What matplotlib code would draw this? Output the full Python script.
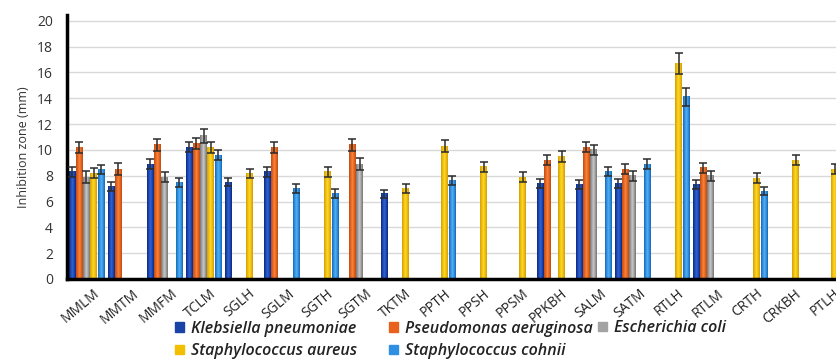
import numpy as np
import matplotlib
matplotlib.use('Agg')
import matplotlib.pyplot as plt
import matplotlib.transforms as mtransforms
from matplotlib.colors import LinearSegmentedColormap
from matplotlib.patches import Patch

nan = np.nan

extracts = ['MMLM', 'MMTM', 'MMFM', 'TCLM', 'SGLH', 'SGLM', 'SGTH', 'SGTM', 'TKTM', 'PPTH',
            'PPSH', 'PPSM', 'PPKBH', 'SALM', 'SATM', 'RTLH', 'RTLM', 'CRTH', 'CRKBH', 'PTLH']

species = ['Klebsiella pneumoniae', 'Pseudomonas aeruginosa', 'Escherichia coli',
           'Staphylococcus aureus', 'Staphylococcus cohnii']

klebsiella = [8.3, 7.2, 8.9, 10.2, 7.5, 8.3, nan, nan, 6.6, nan, nan, nan, 7.4, 7.3, 7.4, nan, 7.3, nan, nan, nan]
pseudomonas = [10.2, 8.5, 10.4, 10.5, nan, 10.2, nan, 10.4, nan, nan, nan, nan, 9.2, 10.2, 8.5, nan, 8.6, nan, nan, nan]
ecoli = [7.9, nan, 7.9, 11.1, nan, nan, nan, 8.9, nan, nan, nan, nan, nan, 10.0, 8.0, nan, 8.0, nan, nan, nan]
aureus = [8.2, nan, nan, 10.2, 8.2, nan, 8.3, nan, 7.0, 10.3, 8.7, 7.9, 9.5, nan, nan, 16.7, nan, 7.8, 9.2, 8.5]
cohnii = [8.5, nan, 7.5, 9.6, nan, 7.0, 6.6, nan, nan, 7.6, nan, nan, nan, 8.3, 8.9, 14.1, nan, 6.8, nan, nan]

err_k = [0.4, 0.35, 0.4, 0.4, 0.3, 0.4, nan, nan, 0.3, nan, nan, nan, 0.35, 0.35, 0.35, nan, 0.35, nan, nan, nan]
err_p = [0.45, 0.45, 0.45, 0.45, nan, 0.45, nan, 0.45, nan, nan, nan, nan, 0.4, 0.4, 0.4, nan, 0.4, nan, nan, nan]
err_e = [0.45, nan, 0.4, 0.55, nan, nan, nan, 0.45, nan, nan, nan, nan, nan, 0.4, 0.4, nan, 0.4, nan, nan, nan]
err_a = [0.4, nan, nan, 0.45, 0.35, nan, 0.4, nan, 0.35, 0.5, 0.4, 0.4, 0.45, nan, nan, 0.8, nan, 0.4, 0.4, 0.4]
err_c = [0.35, nan, 0.35, 0.4, nan, 0.35, 0.35, nan, nan, 0.35, nan, nan, nan, 0.35, 0.4, 0.7, nan, 0.3, nan, nan]

values = [klebsiella, pseudomonas, ecoli, aureus, cohnii]
errors = [err_k, err_p, err_e, err_a, err_c]

# edge colour, centre colour (bars have a horizontal shading)
shades = [('#0b2a85', '#2f62d2'),
          ('#c44a12', '#fb8237'),
          ('#767676', '#c6c6c6'),
          ('#d6a000', '#ffd726'),
          ('#1569bd', '#4fb0f5')]
legend_colors = ['#1a43a8', '#e8611f', '#a3a3a3', '#f2c000', '#2f8fe3']

fig = plt.figure(figsize=(8.37, 3.6), dpi=100)
ax = fig.add_axes([67 / 837, 81 / 360, 780 / 837, 264 / 360])

x = np.arange(len(extracts))
step = 0.18
width = 0.155
grad = np.linspace(0, 1, 32)
grad = np.abs(grad - 0.5) * 2
grad = grad.reshape(1, -1)

for i, (vals, errs) in enumerate(zip(values, errors)):
    pos = x + (i - 2) * step
    bars = ax.bar(pos, vals, width, color='none', zorder=2)
    cmap = LinearSegmentedColormap.from_list('s%d' % i, [shades[i][1], shades[i][0]])
    for b in bars:
        h = b.get_height()
        if np.isnan(h):
            continue
        ax.imshow(grad, cmap=cmap, aspect='auto', zorder=2.5,
                  extent=(b.get_x(), b.get_x() + b.get_width(), 0, h))
    ax.errorbar(pos, vals, yerr=errs, fmt='none', ecolor='#2b2b2b', elinewidth=1.1,
                capsize=3, capthick=1.1, zorder=3)

ax.set_xlim(-0.5, len(extracts) - 0.5)
ax.set_ylim(0, 20.45)
ax.set_yticks(np.arange(0, 21, 2))
ax.set_xticks(x)
ax.set_xticklabels([])

# category labels, rotated and shifted like the original
shift = mtransforms.ScaledTranslation(11 / 100, -13 / 100, fig.dpi_scale_trans)
for xi, name in zip(x, extracts):
    ax.text(xi, 0, name, transform=ax.get_xaxis_transform() + shift,
            rotation=40, ha='right', va='center', rotation_mode='anchor',
            fontsize=10, color='#222222', family='Open Sans', clip_on=False)

for lab in ax.get_yticklabels():
    lab.set_family('Open Sans')
ax.tick_params(axis='y', labelsize=10, colors='#333333', length=0, pad=10)
ax.tick_params(axis='x', length=0)
ax.set_ylabel('Inhibition zone (mm)', fontsize=9, color='#333333', labelpad=5,
              family='Open Sans')
ax.yaxis.grid(True, color='#d9d9d9', linewidth=1, zorder=0)
ax.set_axisbelow(True)
for s in ['top', 'right']:
    ax.spines[s].set_visible(False)
for s in ['left', 'bottom']:
    ax.spines[s].set_linewidth(2.5)
    ax.spines[s].set_color('black')

handles = [Patch(facecolor=c, edgecolor=c) for c in legend_colors]
leg_prop = {'family': 'Open Sans', 'style': 'italic', 'weight': 600, 'size': 11.5}
columns = [([0, 3], 175, 20), ([1, 4], 389, 20), ([2], 598, 32)]
for idx, xpix, ypix in columns:
    leg = fig.legend([handles[k] for k in idx], [species[k] for k in idx],
                     loc='center left', bbox_to_anchor=(xpix / 837, ypix / 360),
                     frameon=False, borderpad=0, borderaxespad=0,
                     handlelength=0.55, handleheight=0.55, handletextpad=0.45,
                     labelspacing=0.4, prop=leg_prop)
    for t in leg.get_texts():
        t.set_color('#222222')

fig.savefig('out.png', dpi=100)
